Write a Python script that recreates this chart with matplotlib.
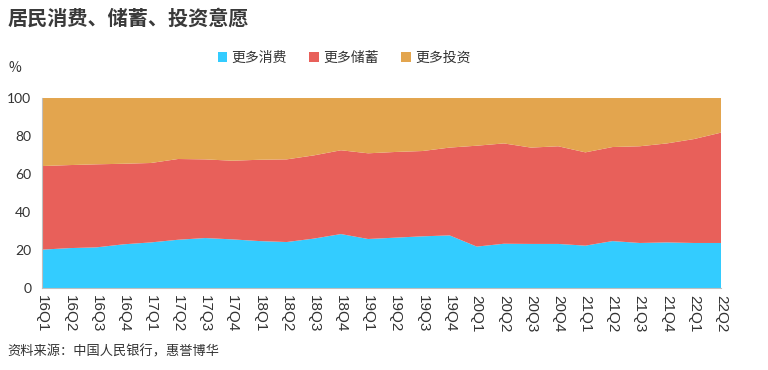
import matplotlib.pyplot as plt
import numpy as np

plt.rcParams['font.family'] = ['Noto Sans CJK SC', 'DejaVu Sans']

# quarters and survey shares (%)
quarters = ["16Q1", "16Q2", "16Q3", "16Q4", "17Q1", "17Q2", "17Q3", "17Q4",
            "18Q1", "18Q2", "18Q3", "18Q4", "19Q1", "19Q2", "19Q3", "19Q4",
            "20Q1", "20Q2", "20Q3", "20Q4", "21Q1", "21Q2", "21Q3", "21Q4",
            "22Q1", "22Q2"]
consume = [20.2, 21.0, 21.4, 23.0, 24.0, 25.4, 26.3, 25.6, 24.7, 24.2, 26.0, 28.4,
           25.8, 26.5, 27.2, 27.7, 21.8, 23.3, 23.2, 23.2, 22.3, 24.7, 23.7, 24.0,
           23.7, 23.7]
save = [44.0, 43.7, 43.7, 42.4, 41.8, 42.5, 41.4, 41.4, 42.8, 43.5, 43.8, 44.1,
        45.1, 45.1, 44.9, 46.2, 53.1, 52.8, 50.7, 51.4, 49.1, 49.5, 50.9, 52.1,
        54.7, 58.1]
invest = [100 - c - s for c, s in zip(consume, save)]

colors = ["#33CCFF", "#E8605A", "#E3A54E"]
names = ["更多消费", "更多储蓄", "更多投资"]

fig = plt.figure(figsize=(7.68, 3.70), dpi=100)
ax = fig.add_axes([0.055, 0.2216, 0.884, 0.5135])

x = np.arange(len(quarters))
ax.stackplot(x, consume, save, invest, colors=colors, labels=names, linewidth=0)

ax.set_xlim(0, len(quarters) - 1)
ax.set_ylim(0, 100)
ax.set_yticks(range(0, 101, 20))
ax.set_xticks(x)
ax.set_xticklabels(quarters, rotation=270, fontsize=11, color="#333333",
                   family=['Liberation Sans', 'DejaVu Sans'])
ax.tick_params(axis='y', labelsize=10, colors="#333333", length=0, pad=8)
ax.tick_params(axis='x', length=0, pad=5)
for lab in ax.get_yticklabels():
    lab.set_family(['Lato', 'DejaVu Sans'])

for side in ["top", "right"]:
    ax.spines[side].set_visible(False)
ax.spines["left"].set_color("#BFBFBF")
ax.spines["bottom"].set_color("#BFBFBF")

leg = fig.legend(loc="center", bbox_to_anchor=(0.448, 0.843), ncol=3, frameon=False,
                 fontsize=10, handlelength=0.7, handleheight=0.7, handletextpad=0.3,
                 columnspacing=1.6)
for t in leg.get_texts():
    t.set_color("#333333")

fig.text(0.01, 0.952, "居民消费、储蓄、投资意愿", fontsize=14.5, fontweight="bold",
         color="#3A3A3A", va="center", ha="left")
fig.text(0.011, 0.815, "%", fontsize=10, color="#333333", va="center", ha="left")
fig.text(0.01, 0.048, "资料来源：中国人民银行，惠誉博华", fontsize=9.5, color="#333333",
         va="center", ha="left")

fig.savefig("out.png", dpi=100)
